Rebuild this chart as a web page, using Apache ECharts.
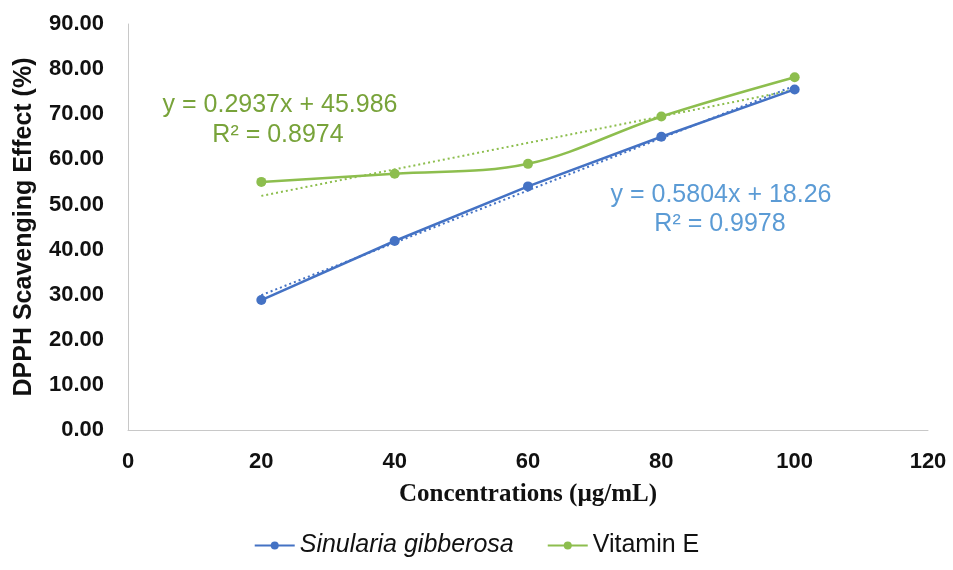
<!DOCTYPE html>
<html>
<head>
<meta charset="utf-8">
<script src="https://cdn.jsdelivr.net/npm/echarts@6/dist/echarts.min.js"></script>
<style>
  html, body { margin: 0; padding: 0; background: #fff; }
  #chart { width: 953px; height: 570px; }
</style>
</head>
<body>
<div id="chart"></div>
<script>
const concentrations = [20, 40, 60, 80, 100]
const sinulariaValues = [28.8, 41.9, 54.0, 65.0, 75.5]
const vitaminEValues = [55.0, 56.8, 59.0, 69.5, 78.2]
// trendline end points as shown in the picture
const sinulariaTrend = [[20, 29.9], [100, 76.3]]
const vitaminETrend = [[20, 51.9], [100, 75.4]]
const yTicks = [0, 10, 20, 30, 40, 50, 60, 70, 80, 90]

const blue = '#4472C4'
const green = '#8DBE4E'
const blueText = '#5B9BD5'
const greenText = '#78A33A'

const chart = echarts.init(document.getElementById('chart'))

const pairs = (xs, ys) => xs.map((x, i) => [x, ys[i]])

chart.setOption({
  animation: false,
  grid: { left: 128, right: 25, top: 24, bottom: 140, outerBoundsMode: 'none' },
  xAxis: {
    type: 'value',
    min: 0,
    max: 120,
    interval: 20,
    name: 'Concentrations (µg/mL)',
    nameLocation: 'middle',
    nameGap: 52,
    nameTextStyle: { fontFamily: 'Liberation Serif', fontWeight: 'bold', fontSize: 25, color: '#111' },
    axisLine: { lineStyle: { color: '#c8c8c8' } },
    axisTick: { show: false },
    splitLine: { show: false },
    axisLabel: { fontFamily: 'Liberation Sans', fontWeight: 'bold', fontSize: 22, color: '#111', margin: 21 }
  },
  yAxis: {
    type: 'value',
    min: yTicks[0],
    max: yTicks[yTicks.length - 1],
    interval: 10,
    name: 'DPPH Scavenging Effect (%)',
    nameLocation: 'middle',
    nameGap: 91,
    nameTextStyle: { fontFamily: 'Liberation Sans', fontWeight: 'bold', fontSize: 25, color: '#111' },
    axisLine: { show: true, lineStyle: { color: '#c8c8c8' } },
    axisTick: { show: false },
    splitLine: { show: false },
    axisLabel: {
      fontFamily: 'Liberation Sans', fontWeight: 'bold', fontSize: 22, color: '#111', margin: 24,
      formatter: (v) => v.toFixed(2)
    }
  },
  legend: {
    bottom: 7,
    left: 'center',
    itemWidth: 40,
    itemHeight: 10,
    itemGap: 33,
    textStyle: { fontFamily: 'Liberation Sans', fontSize: 25, color: '#111' },
    data: [
      { name: 'Sinularia gibberosa', textStyle: { fontStyle: 'italic' } },
      { name: 'Vitamin E' }
    ]
  },
  series: [
    {
      name: 'Sinularia gibberosa',
      type: 'line',
      data: pairs(concentrations, sinulariaValues),
      symbol: 'circle',
      symbolSize: 10,
      itemStyle: { color: blue },
      lineStyle: { color: blue, width: 2.5 },
      z: 3
    },
    {
      name: 'Vitamin E',
      type: 'line',
      data: pairs(concentrations, vitaminEValues),
      smooth: 0.35,
      symbol: 'circle',
      symbolSize: 10,
      itemStyle: { color: green },
      lineStyle: { color: green, width: 2.5 },
      z: 3
    },
    {
      name: 'Sinularia trend',
      type: 'line',
      data: sinulariaTrend,
      symbol: 'none',
      lineStyle: { color: blue, width: 2, type: [2, 3] },
      z: 2
    },
    {
      name: 'Vitamin E trend',
      type: 'line',
      data: vitaminETrend,
      symbol: 'none',
      lineStyle: { color: green, width: 2, type: [2, 3] },
      z: 2
    }
  ],
  graphic: [
    { type: 'text', x: 280, y: 105, style: { text: 'y = 0.2937x + 45.986', align: 'center', verticalAlign: 'middle', font: '25px "Liberation Sans"', fill: greenText } },
    { type: 'text', x: 278, y: 135, style: { text: 'R² = 0.8974', align: 'center', verticalAlign: 'middle', font: '25px "Liberation Sans"', fill: greenText } },
    { type: 'text', x: 721, y: 195, style: { text: 'y = 0.5804x + 18.26', align: 'center', verticalAlign: 'middle', font: '25px "Liberation Sans"', fill: blueText } },
    { type: 'text', x: 720, y: 224, style: { text: 'R² = 0.9978', align: 'center', verticalAlign: 'middle', font: '25px "Liberation Sans"', fill: blueText } }
  ]
})
</script>
</body>
</html>
